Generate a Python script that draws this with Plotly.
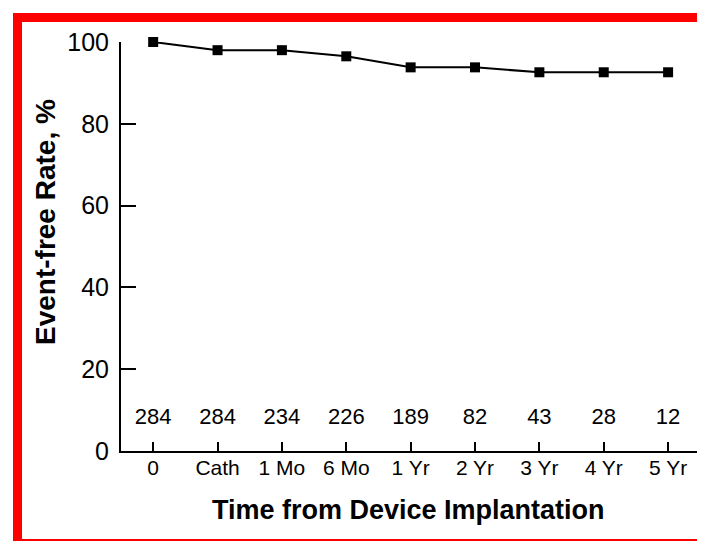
import plotly.graph_objects as go

categories = ["0", "Cath", "1 Mo", "6 Mo", "1 Yr", "2 Yr", "3 Yr", "4 Yr", "5 Yr"]
event_free = [100, 98.0, 98.0, 96.5, 93.8, 93.8, 92.6, 92.6, 92.6]
at_risk = [284, 284, 234, 226, 189, 82, 43, 28, 12]
y_ticks = [0, 20, 40, 60, 80, 100]

# page body has an 8px default margin; work in reference pixel coords and shift
OFF = 8
W, H = 705 - OFF, 541 - OFF
ML, MR, MT, MB = 121 - OFF, 6, 42 - OFF, 98 - OFF
PW, PH = W - ML - MR, H - MT - MB

def px(x):
    return (x - OFF - ML) / PW

def py(y):
    return (H - MB - (y - OFF)) / PH

xs = list(range(len(categories)))
FONT = "Liberation Sans, Arial, Helvetica, sans-serif"

fig = go.Figure()
fig.add_trace(go.Scatter(
    x=xs, y=event_free, mode="lines+markers",
    line=dict(color="black", width=2),
    marker=dict(symbol="square", size=10, color="black"),
    cliponaxis=False,
    showlegend=False, hoverinfo="skip",
))
fig.add_trace(go.Scatter(
    x=xs, y=[7.9] * len(xs), mode="text",
    text=[str(v) for v in at_risk],
    textfont=dict(size=22, color="black", family=FONT),
    textposition="middle center",
    cliponaxis=False,
    showlegend=False, hoverinfo="skip",
))

fig.update_xaxes(
    range=[-0.5, 8.48], tickvals=xs, ticktext=categories,
    showline=True, linecolor="black", linewidth=2,
    ticks="inside", ticklen=9, tickwidth=2, tickcolor="black",
    showgrid=False, zeroline=False,
    tickfont=dict(size=21, color="black", family=FONT),
    ticklabelstandoff=-3,
)
fig.update_yaxes(
    range=[0, 100], tickvals=y_ticks,
    showline=True, linecolor="black", linewidth=2,
    ticks="inside", ticklen=15, tickwidth=2, tickcolor="black",
    showgrid=False, zeroline=False,
    tickfont=dict(size=25, color="black", family=FONT),
    ticklabelstandoff=5,
)

shapes = [
    dict(type="rect", xref="paper", yref="paper", x0=px(13), x1=px(22), y0=py(541), y1=py(13),
         fillcolor="#ff0000", line=dict(width=0), layer="above"),
    dict(type="rect", xref="paper", yref="paper", x0=px(13), x1=px(705), y0=py(22), y1=py(13),
         fillcolor="#ff0000", line=dict(width=0), layer="above"),
    dict(type="rect", xref="paper", yref="paper", x0=px(13), x1=px(705), y0=py(541), y1=py(539),
         fillcolor="#ff0000", line=dict(width=0), layer="above"),
]

annotations = [
    dict(text="<b>Time from Device Implantation</b>", xref="paper", yref="paper",
         x=px(408), y=py(510), showarrow=False, xanchor="center", yanchor="middle",
         font=dict(size=27, color="black", family=FONT)),
    dict(text="<b>Event-free Rate, %</b>", xref="paper", yref="paper",
         x=px(45), y=py(222), showarrow=False, xanchor="center", yanchor="middle",
         textangle=-90, font=dict(size=28, color="black", family=FONT)),
]

fig.update_layout(
    width=W, height=H,
    margin=dict(l=ML, r=MR, t=MT, b=MB, pad=0),
    paper_bgcolor="white", plot_bgcolor="white",
    shapes=shapes, annotations=annotations,
    font=dict(family=FONT, color="black"),
)

fig.write_html("out.html")
